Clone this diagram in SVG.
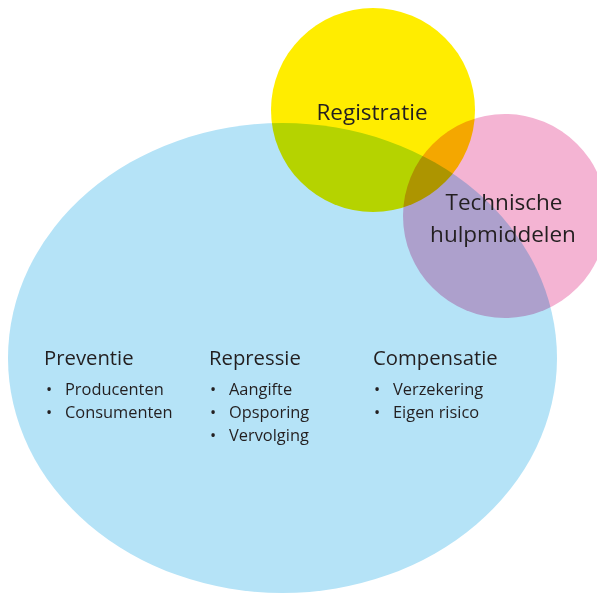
<svg xmlns="http://www.w3.org/2000/svg" width="597" height="593" viewBox="0 0 597 593">
<style>
.shape{mix-blend-mode:multiply}
text{font-family:"Open Sans","Noto Sans",sans-serif;fill:#231f20}
.t{font-size:22.5px;text-anchor:middle}
.h{font-size:20.3px}
.i{font-size:16.4px}
</style>
<rect width="597" height="593" fill="#ffffff"/>
<g id="shapes" style="isolation:isolate">
<g id="preventie-repressie-compensatie"><ellipse class="shape" cx="282.5" cy="358" rx="274.5" ry="235" fill="#b5e3f7"/></g>
<g id="registratie"><circle class="shape" cx="373" cy="110" r="102" fill="#ffed00"/></g>
<g id="technische-hulpmiddelen"><circle class="shape" cx="505" cy="216" r="102" fill="#f4b4d3"/></g>
</g>
<g id="labels">
<text class="t" x="372" y="120">Registratie</text>
<text class="t" x="504" y="210">Technische</text>
<text class="t" x="503" y="242">hulpmiddelen</text>
<g id="col1">
<text class="h" x="44" y="365">Preventie</text>
<text class="i" x="46" y="395">•</text><text class="i" x="65" y="395">Producenten</text>
<text class="i" x="46" y="418">•</text><text class="i" x="65" y="418">Consumenten</text>
</g>
<g id="col2">
<text class="h" x="209" y="365">Repressie</text>
<text class="i" x="210" y="395">•</text><text class="i" x="229" y="395">Aangifte</text>
<text class="i" x="210" y="418">•</text><text class="i" x="229" y="418">Opsporing</text>
<text class="i" x="210" y="441">•</text><text class="i" x="229" y="441">Vervolging</text>
</g>
<g id="col3">
<text class="h" x="373" y="365">Compensatie</text>
<text class="i" x="374" y="395">•</text><text class="i" x="393" y="395">Verzekering</text>
<text class="i" x="374" y="418">•</text><text class="i" x="393" y="418">Eigen risico</text>
</g>
</g>
</svg>
